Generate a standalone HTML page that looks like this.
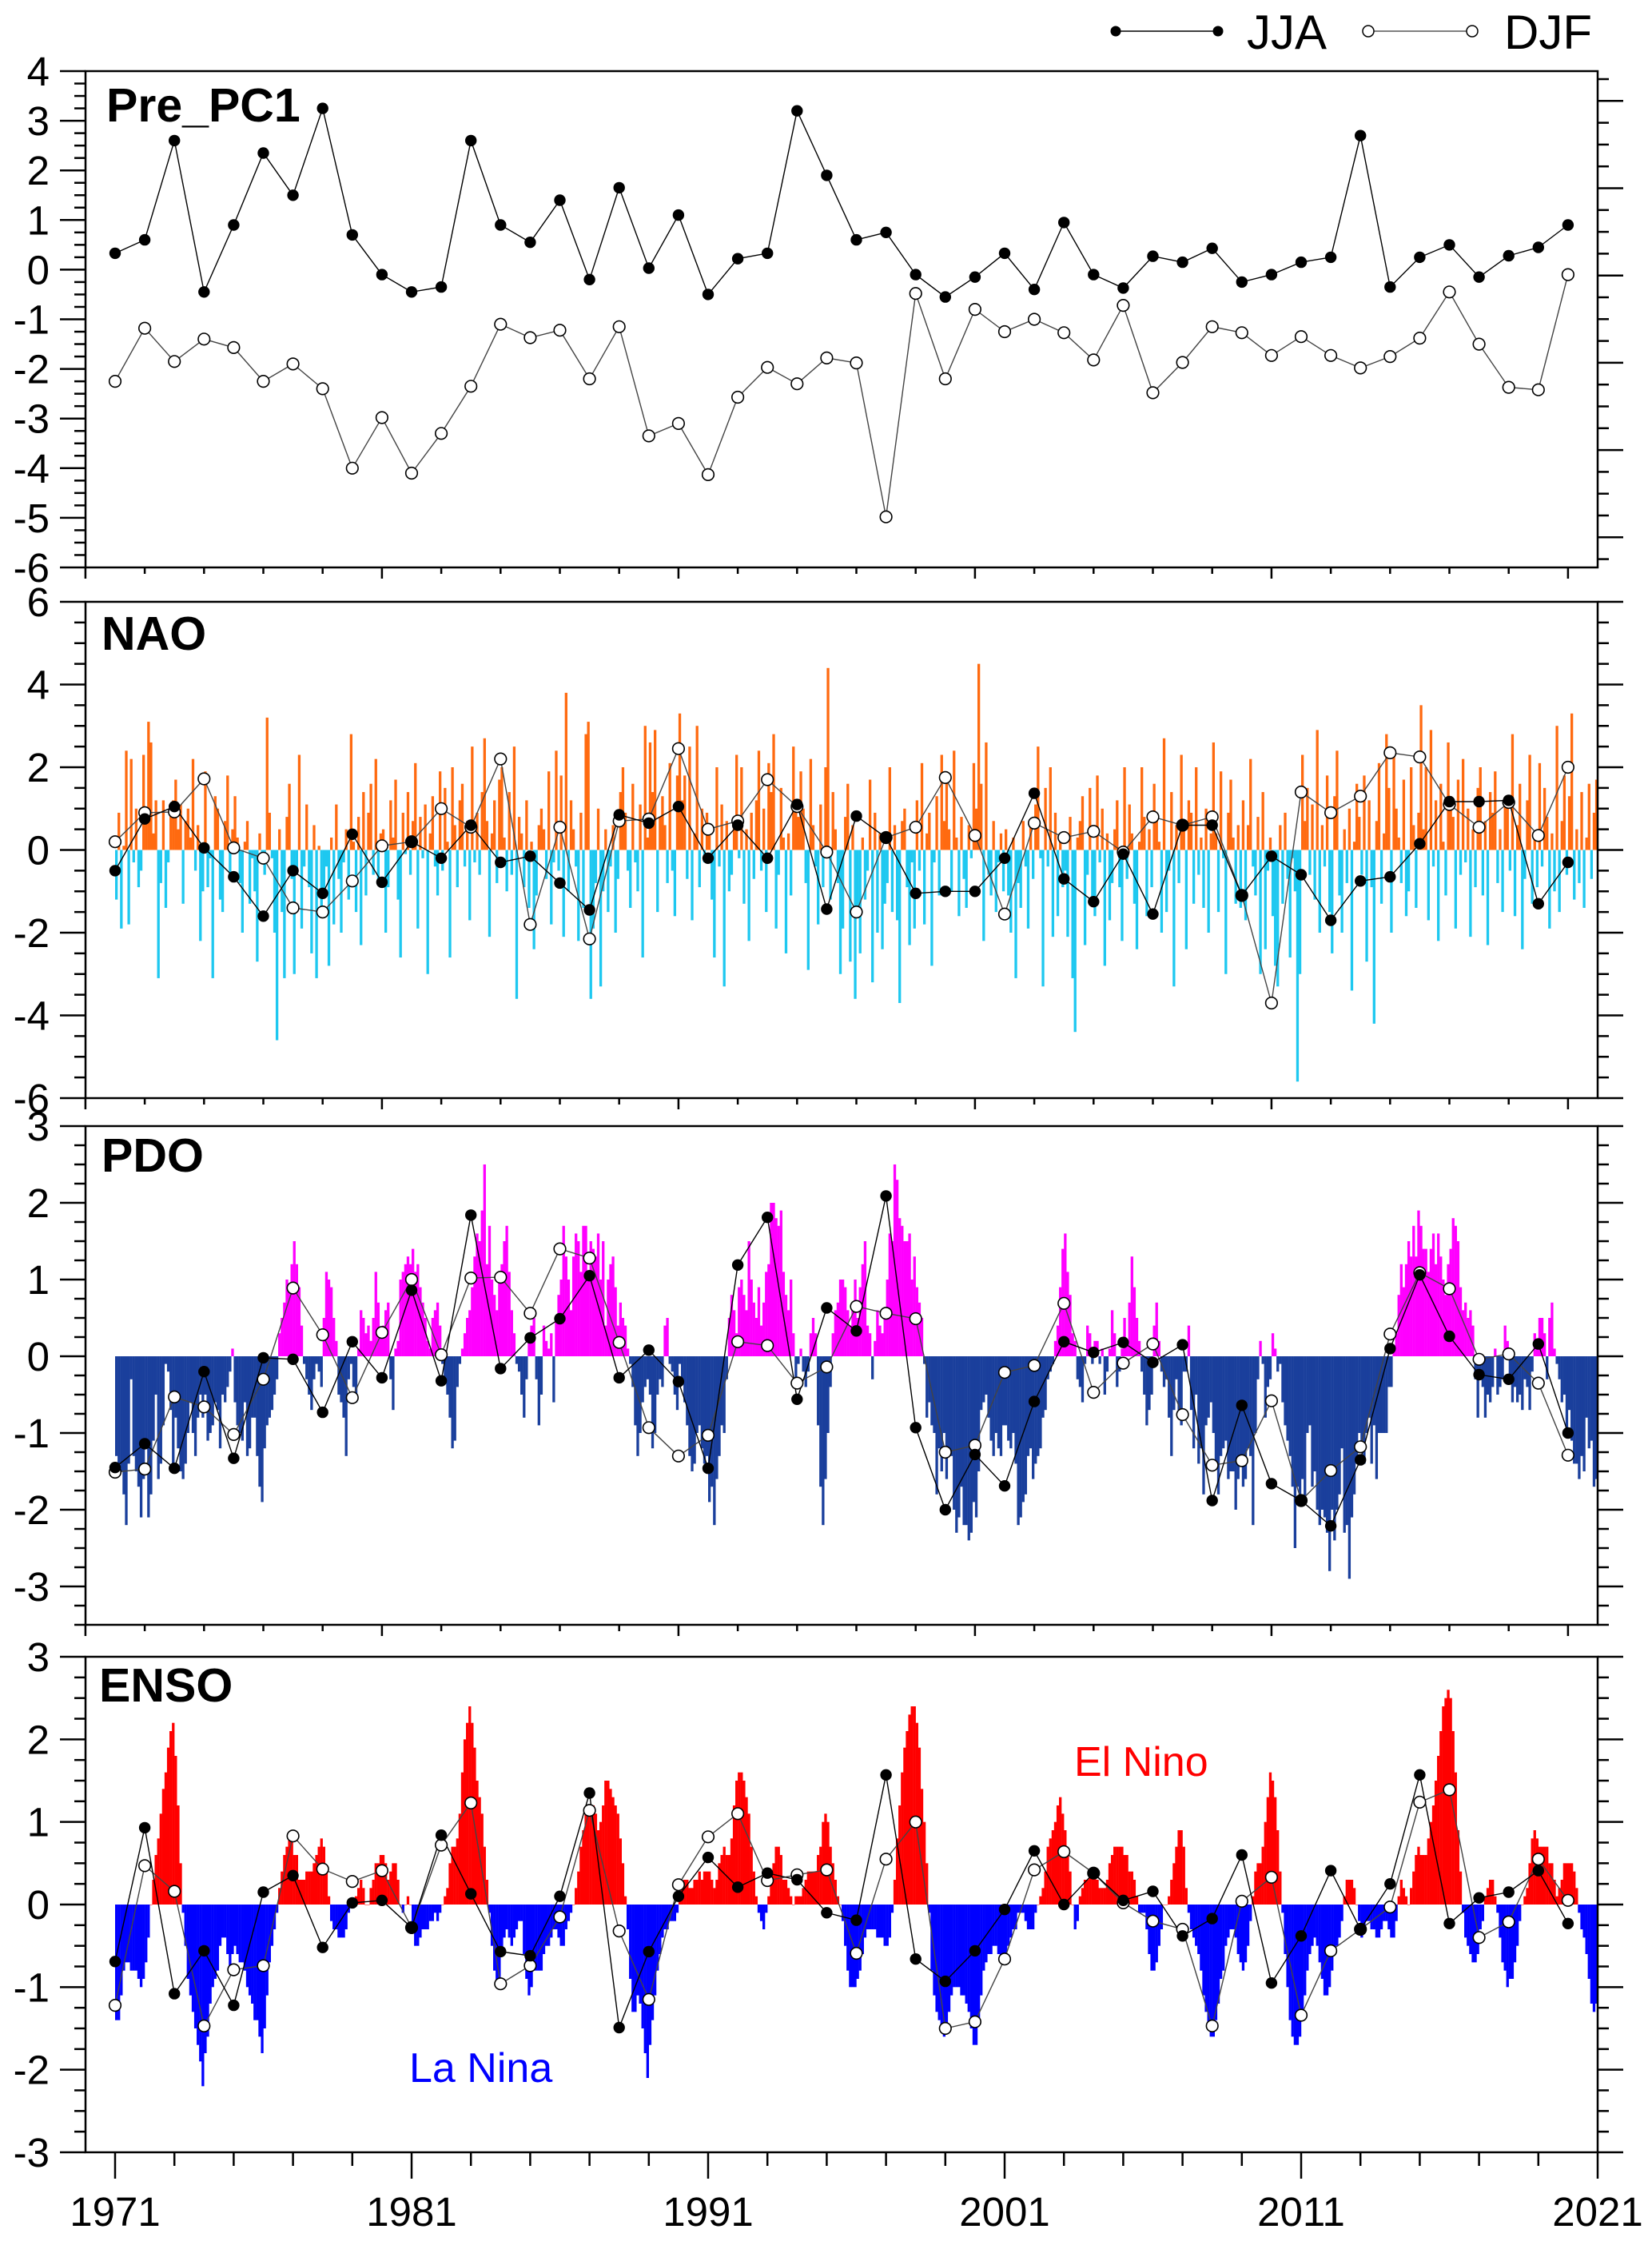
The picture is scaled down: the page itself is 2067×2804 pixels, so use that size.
<!DOCTYPE html>
<html><head><meta charset="utf-8"><style>
html,body{margin:0;padding:0;background:#fff}
svg{display:block}
text{font-family:"Liberation Sans",Arial,sans-serif}
</style></head><body>
<svg id="chart" xmlns="http://www.w3.org/2000/svg" width="2067" height="2804" viewBox="0 0 2067 2804">
<g>
<g>
<line x1="1396" y1="39" x2="1524" y2="39" stroke="#000" stroke-width="1.5"/>
<circle cx="1396" cy="39" r="6.5" fill="#000"/><circle cx="1524" cy="39" r="6.5" fill="#000"/>
<text x="1560" y="61" font-size="60">JJA</text></g>
<g>
<line x1="1712" y1="39" x2="1842" y2="39" stroke="#555" stroke-width="1.5"/>
<circle cx="1712" cy="39" r="7" fill="#fff" stroke="#000" stroke-width="1.5"/><circle cx="1842" cy="39" r="7" fill="#fff" stroke="#000" stroke-width="1.5"/>
<text x="1882" y="61" font-size="60">DJF</text></g>
</g>
<g id="plots"></g>
</svg>
<script>
// ---------- data ----------
const years=[];for(let y=1971;y<=2020;y++)years.push(y);
const pc1JJA=[0.33,0.6,2.6,-0.45,0.9,2.35,1.5,3.25,0.7,-0.1,-0.45,-0.35,2.6,0.9,0.55,1.4,-0.2,1.65,0.03,1.1,-0.5,0.22,0.33,3.2,1.9,0.6,0.75,-0.1,-0.55,-0.15,0.33,-0.4,0.95,-0.1,-0.37,0.27,0.15,0.43,-0.25,-0.1,0.15,0.25,2.7,-0.35,0.25,0.5,-0.15,0.28,0.45,0.9];
const pc1DJF=[-2.25,-1.18,-1.85,-1.4,-1.57,-2.25,-1.9,-2.4,-4.0,-2.98,-4.1,-3.3,-2.35,-1.1,-1.37,-1.22,-2.2,-1.15,-3.35,-3.1,-4.13,-2.57,-1.97,-2.3,-1.78,-1.88,-4.98,-0.48,-2.2,-0.8,-1.25,-1.0,-1.27,-1.82,-0.72,-2.48,-1.87,-1.15,-1.27,-1.73,-1.35,-1.73,-1.98,-1.75,-1.38,-0.45,-1.5,-2.37,-2.42,-0.1];
const naoJJA=[-0.5,0.75,1.05,0.05,-0.65,-1.6,-0.5,-1.05,0.38,-0.78,0.2,-0.2,0.6,-0.3,-0.15,-0.8,-1.45,0.85,0.65,1.05,-0.2,0.6,-0.2,1.1,-1.43,0.82,0.3,-1.05,-1.0,-1.0,-0.2,1.37,-0.7,-1.25,-0.1,-1.55,0.6,0.6,-1.1,-0.15,-0.6,-1.7,-0.75,-0.65,0.15,1.17,1.17,1.2,-1.3,-0.3];
const naoDJF=[0.2,0.9,0.92,1.72,0.05,-0.2,-1.4,-1.5,-0.75,0.1,0.2,1.0,0.55,2.2,-1.8,0.55,-2.15,0.7,0.75,2.45,0.5,0.7,1.7,1.05,-0.05,-1.5,0.3,0.55,1.75,0.35,-1.55,0.65,0.3,0.45,-0.05,0.8,0.6,0.8,-1.1,-3.7,1.4,0.9,1.3,2.35,2.25,1.1,0.55,1.15,0.35,2.0];
const pdoJJA=[-1.45,-1.14,-1.46,-0.2,-1.33,-0.02,-0.04,-0.73,0.19,-0.28,0.86,-0.32,1.84,-0.16,0.24,0.49,1.05,-0.28,0.08,-0.33,-1.46,1.19,1.81,-0.56,0.63,0.33,2.09,-0.93,-2.0,-1.28,-1.69,-0.59,0.19,0.05,0.18,-0.08,0.15,-1.88,-0.64,-1.66,-1.88,-2.21,-1.35,0.1,1.06,0.26,-0.24,-0.3,0.16,-1.0];
const pdoDJF=[-1.51,-1.47,-0.53,-0.66,-1.02,-0.3,0.89,0.28,-0.54,0.31,1.0,0.02,1.02,1.03,0.56,1.4,1.28,0.18,-0.93,-1.3,-1.03,0.19,0.14,-0.35,-0.14,0.65,0.56,0.49,-1.25,-1.16,-0.21,-0.12,0.69,-0.47,-0.09,0.16,-0.76,-1.42,-1.36,-0.58,-1.88,-1.49,-1.18,0.29,1.09,0.88,-0.04,0.03,-0.35,-1.29];
const ensoJJA=[-0.69,0.93,-1.08,-0.56,-1.22,0.15,0.35,-0.52,0.02,0.05,-0.28,0.84,0.13,-0.57,-0.62,0.1,1.35,-1.49,-0.57,0.1,0.57,0.21,0.38,0.3,-0.1,-0.19,1.57,-0.66,-0.93,-0.56,-0.06,0.65,0.0,0.38,0.05,0.16,-0.38,-0.17,0.6,-0.95,-0.38,0.41,-0.3,0.25,1.57,-0.23,0.08,0.15,0.41,-0.23];
const ensoDJF=[-1.22,0.47,0.16,-1.47,-0.79,-0.74,0.83,0.43,0.28,0.41,-0.28,0.72,1.23,-0.96,-0.74,-0.15,1.14,-0.32,-1.15,0.24,0.82,1.1,0.29,0.36,0.42,-0.59,0.55,1.0,-1.5,-1.42,-0.66,0.42,0.64,0.38,0.02,-0.2,-0.3,-1.47,0.04,0.33,-1.34,-0.56,-0.3,-0.03,1.24,1.39,-0.4,-0.21,0.55,0.05];
const naoMonthly=[
-1.2,0.9,-1.9,0.1,2.4,-1.8,2.2,-0.3,1.0,-0.9,-0.5,2.3,
0.7,3.1,2.6,0.4,1.2,-3.1,-0.8,1.2,-1.4,-0.3,1.0,1.2,
1.7,0.5,1.1,-1.3,0.7,1.0,0.3,2.2,-0.5,0.6,-2.2,-1.0,
1.9,-0.9,-0.2,-3.1,1.3,1.0,-1.2,-1.5,0.7,1.8,-0.6,0.5,
1.3,0.3,-0.8,-2.0,0.2,0.7,-1.3,-0.2,-1.0,-2.7,0.4,-0.1,
-0.6,3.2,0.9,-0.2,-2.0,-4.6,0.5,-1.5,-3.1,0.8,1.6,-0.7,
-3.0,-0.6,2.3,-1.9,-0.4,1.1,-0.9,-2.5,0.6,-3.1,0.1,-1.4,
-1.0,-0.4,-2.8,0.3,-1.8,1.1,-0.7,-2.0,-0.3,0.5,-1.2,2.8,
0.2,-1.5,0.8,-2.3,1.4,-1.1,0.9,1.6,-0.6,2.2,-0.7,0.4,
0.5,-2.0,-0.9,1.2,0.3,1.7,-1.2,-2.6,0.9,-0.1,1.4,-0.6,
0.7,2.1,-1.9,0.8,-0.2,1.1,-3.0,0.4,1.3,-0.4,-1.1,1.9,
-0.5,1.5,0.2,-2.6,2.0,0.6,-0.9,1.2,1.6,-0.4,0.7,-1.7,
2.5,-0.3,0.9,-0.6,1.4,2.7,0.7,-2.1,0.4,1.2,-0.8,1.7,
2.0,0.3,-1.0,1.4,-0.6,2.5,-3.6,0.8,0.4,-0.9,1.2,-1.4,
0.2,-2.4,-1.1,0.6,1.0,0.5,-0.7,1.9,-1.8,-0.3,2.4,-0.5,
1.8,-2.1,3.8,-1.0,1.2,0.5,-0.4,-2.2,0.9,-1.4,2.8,3.1,
-3.6,-1.9,-0.8,1.0,-3.3,-1.0,0.5,-1.5,-0.4,0.6,-2.0,-0.7,
1.4,2.0,0.9,-0.5,-1.4,1.6,-0.3,-1.0,1.1,-2.6,3.0,0.3,
2.6,1.4,2.9,-1.5,0.8,1.3,0.6,-0.8,2.1,-0.5,-1.6,1.8,
3.3,1.2,1.8,-0.7,2.5,-1.7,0.4,3.0,-0.9,1.0,-0.3,0.9,
0.5,-1.2,-2.6,2.0,-0.4,1.1,-3.3,0.7,-1.0,-0.6,0.8,2.3,
-0.2,2.0,-1.3,0.5,-2.2,0.9,-0.7,1.2,2.4,-0.5,1.0,-1.5,
2.1,1.4,2.8,-1.9,-0.6,1.5,0.3,-2.5,0.4,-1.1,2.5,1.2,
0.8,1.9,1.0,-0.8,-2.9,2.2,0.6,-0.4,-1.8,1.1,-0.9,2.0,
4.4,-1.2,1.4,0.5,-0.8,-3.0,-1.9,0.8,1.6,-2.7,0.6,-3.6,
-1.6,-2.5,0.3,-1.2,-0.5,1.7,-3.2,0.9,-2.0,0.4,-2.4,-1.3,
-0.8,2.0,-1.5,0.6,-1.7,-3.7,0.7,1.0,-0.9,-2.3,-0.3,-1.9,
1.2,-0.5,2.1,-1.8,0.4,0.9,-2.8,-0.3,1.3,-1.1,2.3,0.7,
1.9,0.5,-1.0,2.4,0.3,-1.6,0.8,-0.7,-1.4,0.6,-0.2,2.1,
1.0,4.5,1.6,-2.2,2.6,-0.6,-1.1,0.7,-1.5,-0.3,0.4,-1.0,
0.5,-1.1,-2.0,0.3,-3.1,-0.8,-1.4,0.7,-0.4,-1.9,0.6,-0.7,
1.1,2.5,-0.2,-3.3,1.5,-0.4,2.0,-2.1,0.9,-1.6,0.4,-0.9,
-0.5,-2.1,0.8,-3.1,-4.4,0.3,0.7,1.3,-2.3,-0.6,1.5,-1.2,
-1.6,1.8,-0.3,1.0,-2.8,0.4,-1.7,-0.8,0.5,1.2,-0.9,-2.2,
2.0,-0.7,1.1,0.4,-1.3,-2.4,0.2,2.0,0.8,-1.6,0.5,-0.9,
1.6,0.9,0.2,-2.0,2.7,-1.5,-0.5,1.4,-3.3,0.6,-0.8,2.3,
0.7,-2.4,1.2,0.9,-1.3,2.0,-0.6,0.3,-1.4,1.0,-2.0,0.4,
2.6,0.4,-1.5,1.9,-0.2,-3.0,0.9,1.7,0.3,-1.3,0.6,-1.4,
1.2,-1.7,0.6,2.2,-0.4,-1.1,0.8,-3.0,1.4,-2.4,-0.5,0.3,
-1.6,-2.8,-3.3,0.6,-1.3,0.9,-0.7,-2.6,-0.2,-1.0,-5.6,-3.0,
2.3,0.7,1.5,-0.6,1.1,-1.2,2.9,-2.0,0.6,-0.4,1.8,-1.5,
-2.5,1.3,2.4,-1.1,-2.0,0.5,-0.8,1.0,-3.4,0.2,1.6,0.8,
-0.6,1.8,-2.7,1.2,-0.9,-4.2,0.7,2.1,-1.3,0.4,2.8,1.5,
-2.0,2.4,1.0,0.3,-0.8,1.7,-1.6,-1.0,2.0,0.6,-1.4,0.9,
3.5,0.5,2.0,-1.7,2.9,-0.4,1.2,-2.2,1.6,0.2,-1.1,2.6,
1.3,0.8,-1.9,1.7,-0.6,2.2,-0.3,1.0,-2.1,0.5,-0.9,1.5,
2.0,-1.1,0.7,-2.3,1.4,0.9,1.9,-0.8,0.5,-1.5,1.2,1.1,
-0.5,2.8,-1.6,0.6,1.6,-2.4,-0.7,1.2,2.3,-1.3,0.3,-0.9,
2.1,-0.4,1.5,0.8,-1.9,0.4,-1.0,3.0,-1.5,0.7,1.8,-0.6,
1.3,3.3,-1.2,0.5,-0.8,1.4,-1.4,0.3,1.6,-0.7,0.9,1.7];
const pdoMonthly=[
-1.3,-1.4,-1.5,-1.8,-2.2,-1.4,-0.3,-1.3,-1.5,-1.7,-2.1,-1.6,
-1.2,-2.1,-1.8,-1.1,-0.5,-1.6,-1.4,-0.9,-0.1,-0.2,-0.7,-1.4,
-0.8,-1.2,-1.5,-1.6,-1.4,-1.0,-0.6,-1.0,-1.3,-0.8,-0.5,-0.8,
-0.5,-1.1,-1.0,-0.9,-0.6,-0.7,-1.2,-0.5,-0.6,-0.4,-0.2,0.1,
-0.6,-0.9,-1.0,-1.1,-0.6,-1.3,-1.2,-0.8,-0.8,-1.3,-1.7,-1.9,
-1.2,-0.9,-0.8,-0.7,-0.5,-0.3,0.3,0.5,0.7,1.0,0.9,1.2,
1.5,1.2,0.9,0.4,-0.1,-0.3,-0.5,-0.7,-0.3,-0.1,-0.2,-0.4,
0.5,1.1,1.0,0.9,0.5,0.2,-0.5,-0.6,-0.8,-1.3,-0.3,-0.1,
-0.4,-0.6,0.1,0.6,0.5,0.3,0.4,0.2,0.5,1.1,0.7,0.3,
0.4,0.6,0.7,-0.3,-0.7,0.1,0.2,1.0,1.1,1.2,1.3,1.2,
1.4,1.1,1.2,0.9,0.7,0.5,0.2,0.1,0.5,0.6,0.7,0.4,
-0.1,-0.3,-0.5,-0.8,-1.2,-1.1,-0.4,-0.1,0.1,0.3,0.5,0.6,
0.9,1.3,1.6,1.5,1.9,2.5,1.2,1.7,1.0,0.8,0.6,1.0,
1.2,1.5,1.7,1.1,0.6,0.3,-0.1,-0.2,-0.5,-0.8,-0.3,0.2,
0.4,0.5,-0.3,-0.9,-0.5,0.4,0.2,0.1,0.3,-0.6,0.5,0.8,
1.0,1.7,1.3,1.0,0.6,1.3,1.6,1.5,1.1,1.7,1.7,1.1,
1.5,1.4,1.3,1.6,1.0,1.5,0.4,1.0,1.2,1.3,0.9,0.4,
0.7,0.5,0.4,0.1,-0.1,-0.4,-0.9,-1.3,-1.0,-0.6,-0.4,-0.3,
-0.5,-1.2,-1.0,-0.5,-0.3,-0.4,0.4,0.5,-0.1,-0.2,-0.5,-0.7,
-0.1,-0.3,-0.6,-0.9,-1.3,-1.5,-1.4,-1.0,-0.9,-1.2,-1.4,-1.3,
-1.9,-1.7,-2.2,-1.6,-1.3,-0.9,-1.0,-0.3,0.5,0.8,0.6,0.3,
0.9,1.0,0.8,0.6,1.5,1.0,0.7,0.5,0.9,0.4,0.7,1.1,
1.2,2.0,2.0,1.8,1.7,1.9,1.1,0.8,0.6,1.0,0.3,-0.3,
-0.1,0.1,-0.2,-0.4,-0.2,0.3,0.5,0.3,-0.9,-1.7,-2.2,-1.6,
-1.0,-0.4,0.3,0.6,0.7,1.0,1.0,0.9,0.6,0.4,0.6,1.0,
0.5,0.9,1.2,1.5,0.4,0.3,-0.3,0.2,0.6,0.4,0.3,0.5,
1.0,1.6,1.5,2.5,2.3,1.8,1.7,1.5,1.5,1.6,1.0,1.3,
0.9,0.7,0.5,-0.1,-0.8,-0.6,-0.9,-1.0,-1.8,-1.2,-1.5,-1.0,
-1.6,-1.2,-1.3,-2.0,-2.3,-2.1,-1.7,-2.2,-2.2,-2.4,-2.3,-1.9,
-2.1,-1.5,-0.7,-0.6,-0.5,-0.8,-1.1,-1.3,-1.0,-1.2,-1.3,-0.9,
-0.9,-1.1,-1.2,-1.0,-1.4,-2.2,-2.1,-1.9,-1.8,-1.3,-1.2,-1.6,
-1.4,-1.3,-1.2,-0.8,-0.7,-0.3,-0.2,-0.1,0.2,0.4,0.9,1.4,
1.6,1.1,0.8,0.3,0.2,-0.3,-0.4,-0.6,-0.1,0.4,0.3,-0.1,
0.2,0.2,-0.1,0.1,-0.5,-0.2,0.1,0.6,0.3,-0.4,-0.2,0.1,
0.5,0.2,0.7,1.3,0.9,0.5,0.2,-0.2,-0.5,-0.9,-0.7,-0.5,
0.4,0.7,0.2,-0.2,-0.4,-0.3,-0.8,-1.3,-0.7,-0.3,-0.7,-0.9,
-0.2,-0.2,0.4,-0.7,-1.2,-0.5,-1.4,-1.2,-1.8,-0.9,-0.8,-0.6,
-1.0,-1.4,-1.8,-1.3,-1.2,-1.1,-1.6,-1.5,-1.5,-2.0,-1.6,-1.3,
-1.7,-1.6,-1.2,-1.3,-2.2,-1.0,-0.3,0.2,-0.1,-0.8,-0.4,-0.3,
0.3,0.1,-0.2,-0.1,-0.6,-0.9,-1.1,-1.3,-1.7,-2.5,-1.7,-1.8,
-1.6,-1.9,-1.0,-0.9,-1.7,-1.5,-2.0,-2.2,-2.0,-2.1,-2.3,-2.8,
-2.0,-2.4,-2.0,-1.8,-1.2,-2.3,-2.2,-2.9,-2.1,-1.8,-1.4,-1.0,
-1.1,-1.4,-1.0,-0.8,-1.4,-0.9,-1.6,-1.0,-1.0,-1.0,-1.0,-0.4,
-0.4,0.1,0.3,0.8,1.2,0.9,1.2,1.5,1.3,1.7,1.3,1.9,
1.7,1.4,1.4,1.1,1.4,1.6,1.2,1.6,1.3,1.0,0.8,1.2,
1.4,1.8,1.7,1.5,0.9,0.6,0.7,0.5,0.6,0.4,-0.3,-0.8,
-0.2,-0.4,-0.8,-0.5,-0.6,-0.4,0.1,-0.5,-0.4,-0.3,0.4,0.2,
-0.3,-0.6,-0.4,-0.6,-0.5,-0.7,-0.3,-0.4,-0.7,-0.2,0.3,0.2,
0.5,0.5,0.3,-0.3,0.5,0.7,0.1,-0.1,-0.3,-0.6,-0.5,-1.0,
-0.7,-1.1,-1.4,-1.4,-1.6,-1.3,-1.5,-0.8,-1.2,-1.1,-1.7,-1.6];
const ensoMonthly=[
-1.4,-1.4,-1.1,-0.8,-0.7,-0.7,-0.8,-0.8,-0.8,-0.9,-1.0,-0.9,
-0.7,-0.4,0.0,0.3,0.6,0.8,1.1,1.4,1.6,1.9,2.1,2.2,
1.8,1.2,0.5,-0.1,-0.5,-0.9,-1.1,-1.3,-1.5,-1.7,-1.9,-2.2,
-1.8,-1.6,-1.2,-1.0,-0.9,-0.8,-0.5,-0.4,-0.4,-0.6,-0.8,-0.6,
-0.5,-0.6,-0.7,-0.7,-0.8,-1.0,-1.1,-1.2,-1.4,-1.4,-1.6,-1.8,
-1.5,-1.1,-0.7,-0.5,-0.3,-0.1,0.2,0.4,0.6,0.7,0.8,0.8,
0.6,0.6,0.3,0.3,0.3,0.4,0.4,0.4,0.5,0.6,0.7,0.8,
0.7,0.4,0.1,-0.2,-0.3,-0.3,-0.4,-0.4,-0.4,-0.3,-0.1,0.0,
0.0,0.1,0.2,0.3,0.2,0.0,0.0,0.2,0.3,0.5,0.5,0.6,
0.6,0.5,0.3,0.4,0.5,0.5,0.3,0.0,-0.1,0.0,0.1,0.0,
-0.3,-0.5,-0.5,-0.4,-0.3,-0.3,-0.3,-0.2,-0.2,-0.1,-0.2,-0.1,
0.0,0.1,0.2,0.5,0.7,0.7,0.8,1.1,1.6,2.0,2.2,2.4,
2.2,1.9,1.5,1.3,1.1,0.7,0.3,-0.1,-0.5,-0.8,-1.0,-0.9,
-0.6,-0.4,-0.3,-0.4,-0.5,-0.4,-0.3,-0.2,-0.2,-0.6,-0.9,-1.1,
-1.0,-0.8,-0.8,-0.8,-0.8,-0.6,-0.5,-0.5,-0.4,-0.3,-0.3,-0.4,
-0.5,-0.5,-0.3,-0.2,-0.1,0.0,0.2,0.4,0.7,0.9,1.1,1.2,
1.2,1.2,1.1,0.9,1.0,1.2,1.5,1.5,1.4,1.3,1.2,1.1,
0.8,0.5,0.1,-0.3,-0.9,-1.3,-1.3,-1.1,-1.2,-1.5,-1.8,-2.1,
-1.7,-1.4,-1.1,-0.8,-0.6,-0.4,-0.3,-0.3,-0.2,-0.2,-0.2,-0.1,
0.1,0.2,0.3,0.3,0.2,0.2,0.3,0.3,0.4,0.3,0.4,0.4,
0.4,0.3,0.2,0.3,0.5,0.6,0.7,0.6,0.6,0.8,1.2,1.5,
1.6,1.6,1.5,1.3,1.1,0.7,0.4,0.1,-0.1,-0.2,-0.3,-0.1,
0.1,0.3,0.5,0.7,0.7,0.6,0.3,0.3,0.2,0.1,0.0,0.1,
0.1,0.1,0.2,0.3,0.4,0.4,0.4,0.4,0.6,0.7,1.0,1.1,
1.0,0.7,0.5,0.3,0.1,0.0,-0.2,-0.5,-0.8,-1.0,-1.0,-1.0,
-0.9,-0.8,-0.6,-0.4,-0.3,-0.3,-0.3,-0.3,-0.4,-0.4,-0.4,-0.5,
-0.5,-0.4,-0.1,0.3,0.8,1.2,1.6,1.9,2.1,2.3,2.4,2.4,
2.2,1.9,1.4,1.0,0.5,-0.1,-0.8,-1.1,-1.3,-1.4,-1.5,-1.6,
-1.5,-1.3,-1.1,-1.0,-1.0,-1.0,-1.1,-1.1,-1.2,-1.3,-1.5,-1.7,
-1.7,-1.4,-1.1,-0.8,-0.7,-0.6,-0.6,-0.5,-0.5,-0.6,-0.7,-0.7,
-0.7,-0.5,-0.4,-0.3,-0.3,-0.1,-0.1,-0.1,-0.2,-0.3,-0.3,-0.3,
-0.1,0.0,0.1,0.2,0.4,0.7,0.8,0.9,1.0,1.2,1.3,1.1,
0.9,0.6,0.4,0.0,-0.3,-0.2,0.1,0.2,0.3,0.3,0.4,0.4,
0.4,0.3,0.2,0.2,0.2,0.3,0.5,0.6,0.7,0.7,0.7,0.7,
0.6,0.6,0.4,0.4,0.3,0.1,-0.1,-0.1,-0.1,-0.3,-0.6,-0.8,
-0.8,-0.7,-0.5,-0.3,0.0,0.0,0.1,0.3,0.5,0.7,0.9,0.9,
0.7,0.2,-0.1,-0.3,-0.4,-0.5,-0.6,-0.8,-1.1,-1.3,-1.5,-1.6,
-1.6,-1.4,-1.2,-0.9,-0.8,-0.5,-0.4,-0.3,-0.3,-0.4,-0.6,-0.7,
-0.8,-0.7,-0.5,-0.2,0.1,0.4,0.5,0.5,0.7,1.0,1.3,1.6,
1.5,1.3,0.9,0.4,-0.1,-0.6,-1.0,-1.4,-1.6,-1.7,-1.7,-1.6,
-1.4,-1.1,-0.8,-0.6,-0.5,-0.4,-0.5,-0.7,-0.9,-1.1,-1.1,-1.0,
-0.8,-0.6,-0.5,-0.4,-0.2,0.1,0.3,0.3,0.3,0.2,0.0,-0.2,
-0.4,-0.3,-0.2,-0.2,-0.3,-0.3,-0.4,-0.4,-0.3,-0.2,-0.2,-0.3,
-0.4,-0.4,-0.2,0.1,0.3,0.2,0.1,0.0,0.2,0.4,0.6,0.7,
0.6,0.6,0.6,0.8,1.0,1.2,1.5,1.8,2.1,2.4,2.5,2.6,
2.5,2.1,1.6,0.9,0.4,-0.1,-0.4,-0.5,-0.6,-0.7,-0.7,-0.6,
-0.3,-0.2,0.1,0.2,0.3,0.3,0.1,-0.1,-0.4,-0.7,-0.8,-1.0,
-0.9,-0.9,-0.7,-0.5,-0.2,0.0,0.1,0.2,0.5,0.8,0.9,0.8,
0.7,0.7,0.7,0.7,0.5,0.5,0.3,0.1,0.2,0.3,0.5,0.5,
0.5,0.5,0.4,0.2,-0.1,-0.3,-0.4,-0.6,-0.9,-1.2,-1.3,-1.2];
const yearLabels=["1971","1981","1991","2001","2011","2021"];

// ---------- geometry ----------
const NS="http://www.w3.org/2000/svg";
const XL=107,XR=1999,X0=144,PX=37.1;
function xOf(t){return X0+(t-1971)*PX;}
const plots=document.getElementById('plots');
function el(tag,attrs,parent){const e=document.createElementNS(NS,tag);for(const k in attrs)e.setAttribute(k,attrs[k]);(parent||plots).appendChild(e);return e;}

const panels=[
 {name:'pre-pc1',title:'Pre_PC1',tx:133,ty:152,top:89,bot:710,vmax:4,vmin:-6,minor:0.25,major:1,label:1,jja:pc1JJA,djf:pc1DJF,bars:null,bottom:false},
 {name:'nao',title:'NAO',tx:127,ty:813,top:753,bot:1374,vmax:6,vmin:-6,minor:0.5,major:2,label:2,jja:naoJJA,djf:naoDJF,bars:naoMonthly,pos:'#ff6a10',neg:'#1ec8f0',bottom:false},
 {name:'pdo',title:'PDO',tx:127,ty:1466,top:1409,bot:2033,vmax:3,vmin:-3.5,minor:0.25,major:1,label:1,lmin:-3,jja:pdoJJA,djf:pdoDJF,bars:pdoMonthly,pos:'#ff00ff',neg:'#1a3f9c',bottom:false},
 {name:'enso',title:'ENSO',tx:124,ty:2129,top:2073,bot:2693,vmax:3,vmin:-3,minor:0.25,major:1,label:1,jja:ensoJJA,djf:ensoDJF,bars:ensoMonthly,pos:'#ff0000',neg:'#0000ff',bottom:true}
];

panels.forEach(p=>{
 const g=el('g',{});
 
 
 const yOf=v=>p.top+(p.vmax-v)*(p.bot-p.top)/(p.vmax-p.vmin);
 if(p.bars){
  const bg=el('g',{},g);
  
  
  const y0=yOf(0);
  p.bars.forEach((v,i)=>{
   const x=xOf(1971+i/12);
   const y=yOf(v);
   const r=el('rect',{x:x.toFixed(2),y:Math.min(y,y0).toFixed(2),width:3.3,height:Math.max(Math.abs(y-y0),0.5).toFixed(2),fill:v>=0?p.pos:p.neg},bg);
   
   
  });
 }
 [['djf',p.djf,'#444'],['jja',p.jja,'#000']].forEach(([nm,arr,col])=>{
  const pts=arr.map((v,i)=>xOf(years[i]).toFixed(1)+','+yOf(v).toFixed(1)).join(' ');
  const pl=el('polyline',{points:pts,fill:'none',stroke:col,'stroke-width':1.4},g);
  
  
 });
 [['djf',p.djf],['jja',p.jja]].forEach(([nm,arr])=>{
  arr.forEach((v,i)=>{
   const c=el('circle',nm==='jja'?{cx:xOf(years[i]).toFixed(1),cy:yOf(v).toFixed(1),r:7.2,fill:'#000'}:{cx:xOf(years[i]).toFixed(1),cy:yOf(v).toFixed(1),r:7.3,fill:'#fff',stroke:'#000','stroke-width':1.6},g);
   
   
  });
 });
 const fr=el('rect',{x:XL,y:p.top,width:XR-XL,height:p.bot-p.top,fill:'none',stroke:'#000','stroke-width':2.5},g);
 
 
 const ax=el('g',{},g);
 
 
 const n=Math.round((p.vmax-p.vmin)/p.minor);
 for(let k=0;k<=n;k++){
  const v=p.vmax-k*p.minor;
  const y=yOf(v);
  const isMaj=Math.abs(v/p.major-Math.round(v/p.major))<1e-6;
  el('line',{x1:isMaj?75:93,y1:y,x2:XL,y2:y,stroke:'#000','stroke-width':2.5},ax);
  if(p.name!=='pre-pc1') el('line',{x1:XR,y1:y,x2:XR+(isMaj?32:14),y2:y,stroke:'#000','stroke-width':2.5},ax);
  const isLab=Math.abs(v/p.label-Math.round(v/p.label))<1e-6 && (p.lmin===undefined||v>=p.lmin);
  if(isLab){const t=el('text',{x:62,y:(y+18).toFixed(1),'font-size':51,'text-anchor':'end'},ax);t.textContent=String(Math.round(v));
   
   }
 }
 if(p.name==='pre-pc1'){
  for(let k=0;k<23;k++){const y=99+k*27.3;if(y>p.bot)break;const maj=(k%4)===1;
   el('line',{x1:XR,y1:y,x2:XR+(maj?32:14),y2:y,stroke:'#000','stroke-width':2.5},ax);}
 }
 const xa=el('g',{},g);
 
 
 if(!p.bottom){
  for(let yr=1970;yr<=2020;yr+=2){const x=xOf(yr);const maj=(yr%10===0);
   el('line',{x1:x,y1:p.bot,x2:x,y2:p.bot+(maj?14:8),stroke:'#000','stroke-width':2.5},xa);}
 }else{
  for(let yr=1971;yr<=2021;yr+=2){const x=xOf(yr);const maj=((yr-1971)%10===0);
   el('line',{x1:x,y1:p.bot,x2:x,y2:p.bot+(maj?33:17),stroke:'#000','stroke-width':2.5},xa);}
  yearLabels.forEach(s=>{const t=el('text',{x:xOf(+s),y:2785,'font-size':51,'text-anchor':'middle'},xa);t.textContent=s;
   
   });
 }
 const tt=el('text',{x:p.tx,y:p.ty,'font-size':59,'font-weight':'bold'},g);tt.textContent=p.title;
 
 
});
const en=el('text',{x:1344,y:2222,'font-size':52,fill:'#ff0000'});en.textContent='El Nino';


const ln=el('text',{x:512,y:2605,'font-size':52,fill:'#0000ff'});ln.textContent='La Nina';


</script>
</body></html>
